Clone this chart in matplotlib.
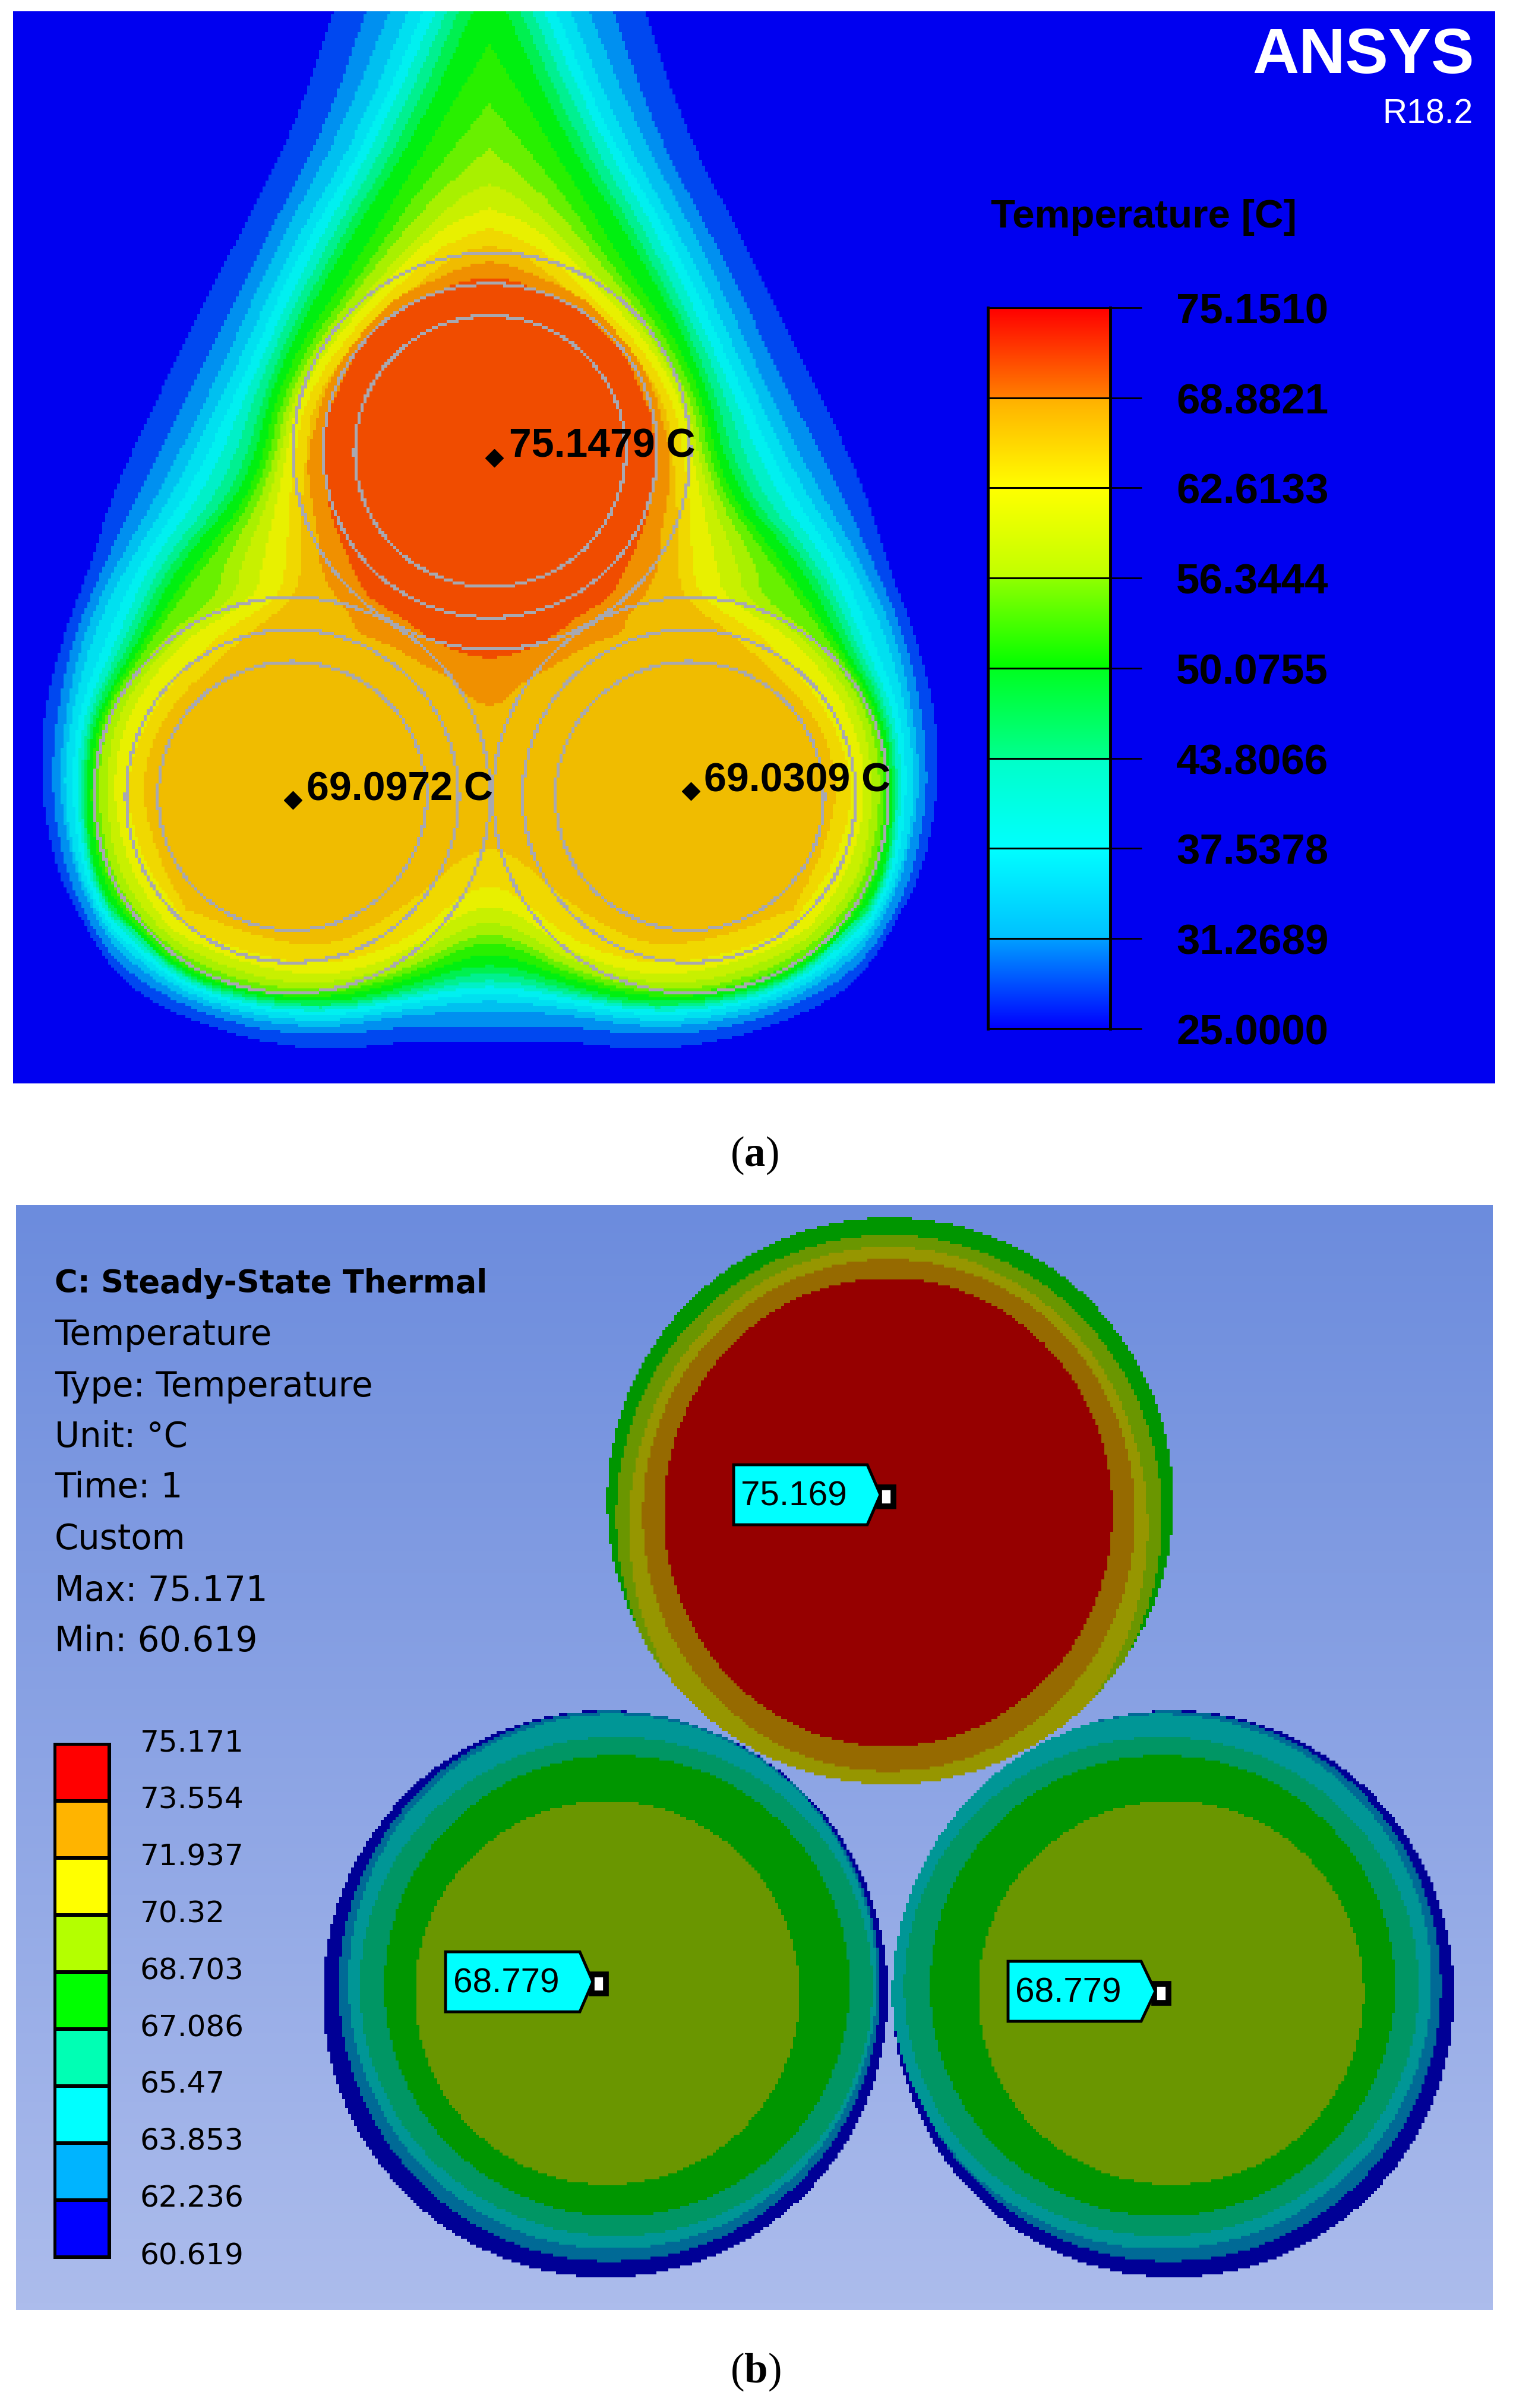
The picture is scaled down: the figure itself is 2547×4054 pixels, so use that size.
import numpy as np
import matplotlib
matplotlib.use('Agg')
import matplotlib.pyplot as plt
from matplotlib.colors import ListedColormap, LinearSegmentedColormap
from matplotlib.path import Path
from matplotlib.patches import Polygon, Rectangle
from matplotlib.transforms import ScaledTranslation

W, H = 2547, 4055
nan = np.nan

# ---- panel a: temperature bands (outermost first)
band_colors = ['#0000F0', '#0048F0', '#0090F0', '#00C0F0', '#00E0F0', '#00F0F0', '#00F0C8',
               '#00F090', '#00F050', '#00F010', '#28F000', '#68F000', '#A8F000', '#C8F000',
               '#E8F000', '#F0D800', '#F0BC00', '#F09000', '#F04C00', '#A8A8B0']
axis_x = 824
apex_y = [nan] * 9 + [74, 176, 250, 311, 352, 385, 415]

# band edge x along rows of the left flank, one column for each of 16 bands
row_y = [20, 224, 326, 377, 400, 428, 632, 820, 948, 1010, 1075, 1203, 1330, 1458, 1540]
edge_x = [
    [562, 616, 656, 687, 712, 733, 752, 772, 796, nan, nan, nan, nan, nan, nan, nan],
    [493, 544, 572, 603, 625, 641, 661, 682, 702, 733, 784, nan, nan, nan, nan, nan],
    [nan, nan, nan, nan, nan, nan, nan, nan, nan, 671, 702, 738, 784, nan, nan, nan],
    [nan, nan, nan, nan, nan, nan, nan, nan, nan, nan, 667, 693, 727, 758, nan, nan],
    [nan, nan, nan, nan, nan, nan, nan, nan, nan, nan, nan, nan, nan, nan, 780, nan],
    [386, 434, 460, 485, 503, 523, 541, 557, 572, 608, 631, 648, 674, 694, 722, 758],
    [284, 335, 368, 391, 411, 427, 439, 452, 462, 472, 483, 493, 500, 508, 521, 534],
    [194, 238, 273, 299, 324, 350, 378, 401, 416, 432, 442, 452, 462, 472, 488, 508],
    [154, 177, 197, 215, 235, 253, 271, 286, 302, 330, 350, 376, 406, 442, 483, 508],
    [nan, nan, nan, nan, nan, nan, nan, nan, nan, nan, nan, 365, 395, 430, 470, 498],
    [105, 123, 138, 154, 179, 197, 210, 222, 235, 245, 256, 271, 289, 309, 355, 406],
    [72, 95, 110, 120, 130, 140, 148, 154, 160, 166, 172, 182, 194, 212, 248, 271],
    [68, 85, 98, 105, 120, 128, 134, 138, 143, 151, 157, 163, 177, 187, 207, 233],
    [92, 108, 123, 128, 136, 143, 148, 151, 154, 164, 171, 182, 194, 215, 243, 271],
    [131, 141, 156, 164, 171, 179, 184, 189, 194, 205, 215, 228, 245, 266, 304, 319],
]
# band edge y along columns of the bottom part
col_x = [202, 304, 432, 559, 687, 779, 824]
edge_y = [
    [1655, 1630, 1608, 1592, 1579, 1566, 1553, 1544, nan, nan, nan, nan, nan, nan, nan, nan],
    [1713, 1694, 1681, 1671, 1662, 1655, 1650, 1646, 1641, 1633, 1624, 1611, 1595, 1579, 1560, 1528],
    [1754, 1735, 1722, 1713, 1703, 1697, 1691, 1686, 1681, 1675, 1669, 1662, 1649, 1630, 1611, 1579],
    [1770, 1745, 1732, 1722, 1713, 1706, 1701, 1697, 1691, 1682, 1675, 1668, 1659, 1646, 1627, 1598],
    [1754, 1729, 1710, 1700, 1691, 1682, 1676, 1670, 1662, 1652, 1643, 1633, 1620, 1604, 1585, 1526],
    [1754, 1729, 1705, 1689, 1676, 1665, 1655, 1643, 1630, 1614, 1595, 1582, 1563, 1537, 1506, 1442],
    [1754, 1729, 1703, 1687, 1675, 1662, 1652, 1639, 1627, 1608, 1588, 1573, 1553, 1528, 1493, 1429],
]
# the two hottest bands close on their own around the top cable
hot1_x = [824, 784, 738, 702, 666, 641, 610, 585, 559, 544, 534, 523, 518, 521, 526, 536, 539, 559, 592, 597, 661, 712, 763, 799, 824]
hot1_y = [441, 449, 469, 484, 505, 525, 561, 591, 632, 668, 709, 744, 785, 820, 852, 903, 957, 999, 1037, 1066, 1088, 1120, 1145, 1184, 1189]
hot2_x = [824, 791, 758, 702, 661, 636, 610, 590, 574, 559, 549, 546, 549, 554, 572, 592, 615, 631, 677, 712, 753, 796, 824]
hot2_y = [471, 471, 482, 510, 530, 556, 581, 612, 648, 683, 709, 785, 820, 858, 909, 954, 999, 1015, 1040, 1069, 1091, 1107, 1108]

# grey cable outlines: three circles for each cable
ring_cx = [828, 825, 825, 492, 492, 492, 1163, 1160, 1161]
ring_cy = [760, 760, 761, 1340, 1341, 1341, 1340, 1341, 1341]
ring_r = [334, 281, 228, 333, 280, 226, 333, 280, 226]

probe_x = [832, 493, 1163]
probe_y = [772, 1348, 1333]
probe_labels = ['75.1479 C', '69.0972 C', '69.0309 C']
probe_label_x = [857, 516, 1185]
probe_label_y = [752, 1330, 1315]

cb_values = [25.0, 31.2689, 37.5378, 43.8066, 50.0755, 56.3444, 62.6133, 68.8821, 75.151]
cb_labels = ['25.0000', '31.2689', '37.5378', '43.8066', '50.0755', '56.3444', '62.6133', '68.8821', '75.1510']
cb_colors = [('#0000FF', '#00A0FF'), ('#00C0FF', '#00FFFF'), ('#00FFFF', '#00FFC8'), ('#00FF90', '#00FF20'),
             ('#00FF00', '#90FF00'), ('#C0FF00', '#FFFF00'), ('#FFFF00', '#FFB000'), ('#FF8000', '#FF0000')]

# ---- panel b
info_lines = ['Temperature', 'Type: Temperature', 'Unit: °C', 'Time: 1', 'Custom', 'Max: 75.171', 'Min: 60.619']
info_y = [2248, 2335, 2420, 2505, 2592, 2679, 2764]
leg_values = [60.619, 62.236, 63.853, 65.47, 67.086, 68.703, 70.32, 71.937, 73.554, 75.171]
leg_labels = ['60.619', '62.236', '63.853', '65.47', '67.086', '68.703', '70.32', '71.937', '73.554', '75.171']
leg_colors = ['#0000FF', '#00B4FF', '#00FFFF', '#00FFB4', '#00FF00', '#B4FF00', '#FFFF00', '#FFB400', '#FF0000']

# cable layers from the outside in: centre and half axes of each
top_colors = ['#009600', '#6A9600', '#969600', '#966A00', '#960000']
top_cx = [1501, 1499, 1498, 1499, 1498]
top_cy = [2528, 2555, 2572, 2552, 2547]
top_rx = [477, 460, 437, 415, 378]
top_ry = [477, 475, 472, 431, 394]

low_colors = ['#000096', '#006A96', '#009696', '#009664', '#009600', '#6A9600']
left_cx = [1021, 1028, 1033, 1039, 1040, 1024]
right_cx = [1978, 1970, 1958, 1958, 1960, 1975]
low_cy = [3358, 3345, 3337, 3345, 3344, 3356]
left_rx = [476, 456, 445, 432, 392, 324]
right_rx = [474, 460, 456, 434, 392, 325]
low_ry = [477, 463, 450, 420, 388, 323]

# tag box left, right, tip, top, bottom, text
tag_left = [1235, 750, 1697]
tag_right = [1460, 976, 1921]
tag_tip = [1482, 998, 1945]
tag_top = [2467, 3287, 3303]
tag_bottom = [2568, 3388, 3404]
tag_text = ['75.169', '68.779', '68.779']


def smooth(pts, n=2):
    # corner cutting, the ends stay where they are
    pts = np.asarray(pts, float)
    for _ in range(n):
        q = .75 * pts[:-1] + .25 * pts[1:]
        r = .25 * pts[:-1] + .75 * pts[1:]
        mid = np.empty((2 * len(q), 2))
        mid[0::2] = q
        mid[1::2] = r
        pts = np.vstack([pts[0], mid, pts[-1]])
    return pts


def outline(half):
    half = smooth(half)
    other = half[::-1].copy()
    other[:, 0] = 2 * axis_x - other[:, 0]
    return Path(np.vstack([half, other]))


def px_axes(x0, y0, x1, y1):
    return fig.add_axes([x0 / W, 1 - y1 / H, (x1 - x0) / W, (y1 - y0) / H])


fig = plt.figure(figsize=(W / 100, H / 100), dpi=100)
ax = fig.add_axes([0, 0, 1, 1])
ax.set_axis_off()

# panel a raster, the source screenshot has blocks of about 5 px
xs = np.arange(22, 2517, 5.0)
ys = np.arange(20, 1825, 5.0)
xx, yy = np.meshgrid(xs + 2.5, ys + 2.5)
cells = np.column_stack([xx.ravel(), yy.ravel()])
band = np.zeros(len(cells), int)
edge_x = np.array(edge_x, float)
edge_y = np.array(edge_y, float)
for k in range(16):
    half = []
    if not np.isnan(apex_y[k]):
        half.append((axis_x, apex_y[k]))
    half += [(edge_x[i, k], row_y[i]) for i in range(len(row_y)) if not np.isnan(edge_x[i, k])]
    half += [(col_x[i], edge_y[i, k]) for i in range(len(col_x)) if not np.isnan(edge_y[i, k])]
    band[outline(half).contains_points(cells)] = k + 1
band[outline(list(zip(hot1_x, hot1_y))).contains_points(cells)] = 17
band[outline(list(zip(hot2_x, hot2_y))).contains_points(cells)] = 18
band = band.reshape(xx.shape)
for cx, cy, r in zip(ring_cx, ring_cy, ring_r):
    d = np.hypot(xx - cx, yy - cy)
    band[np.abs(d - r) < 2.6] = 19
ax.imshow(band, cmap=ListedColormap(band_colors), vmin=0, vmax=19, interpolation='nearest',
          extent=(22, 2517, 1825, 20), aspect='auto')

ax.plot(probe_x, probe_y, ls='none', marker='D', ms=15, color='black')
for s, x, y in zip(probe_labels, probe_label_x, probe_label_y):
    ax.text(x, y, s, fontsize=49, family='Liberation Sans', weight='bold', va='center', ha='left')

ax.text(2482, 95, 'ANSYS', color='white', fontsize=78, family='Liberation Sans', weight='bold', va='center', ha='right')
ax.text(2480, 193, 'R18.2', color='white', fontsize=41, family='Liberation Sans', va='center', ha='right')
ax.text(1668, 366, 'Temperature [C]', fontsize=48.5, family='Liberation Sans', weight='bold', va='center', ha='left')

# panel a colour bar
stops = []
for i, pair in enumerate(cb_colors):
    stops += [(i / 8, pair[0]), ((i + 1) / 8, pair[1])]
cb_cmap = LinearSegmentedColormap.from_list('cb', stops, N=800)
ax_cb = px_axes(1663, 519, 1869, 1733)
ax_cb.imshow(np.linspace(25, 75.151, 800)[:, None], origin='lower', cmap=cb_cmap, aspect='auto',
             extent=(0, 1, 25, 75.151), vmin=25, vmax=75.151)
ax_cb.hlines(cb_values, 0, 1, color='black', lw=2.2)
ax_cb.set_xticks([])
ax_cb.yaxis.tick_right()
ax_cb.set_yticks(cb_values, cb_labels, fontsize=51, family='Liberation Sans', weight='bold')
ax_cb.tick_params(axis='y', length=38, width=2, pad=42)
for s in ['left', 'right']:
    ax_cb.spines[s].set_linewidth(3.5)
for s in ['top', 'bottom']:
    ax_cb.spines[s].set_linewidth(2)

# panel b background
bg = LinearSegmentedColormap.from_list('bg', ['#6C8CDD', '#ACBCEC'])
ax.imshow(np.linspace(0, 1, 256)[:, None], cmap=bg, extent=(27, 2513, 3890, 2030), aspect='auto', interpolation='bilinear')

xs2 = np.arange(27, 2513, 5.0)
ys2 = np.arange(2030, 3890, 5.0)
xx2, yy2 = np.meshgrid(xs2 + 2.5, ys2 + 2.5)
all_colors = low_colors + top_colors
b_band = np.full(xx2.shape, -1)


def paint(cxs, cys, rxs, rys, first):
    outer = ((xx2 - cxs[0]) / rxs[0]) ** 2 + ((yy2 - cys[0]) / rys[0]) ** 2 < 1
    for i in range(len(cxs)):
        inside = ((xx2 - cxs[i]) / rxs[i]) ** 2 + ((yy2 - cys[i]) / rys[i]) ** 2 < 1
        b_band[inside & outer] = first + i


paint(right_cx, low_cy, right_rx, low_ry, 0)
paint(left_cx, low_cy, left_rx, low_ry, 0)
paint(top_cx, top_cy, top_rx, top_ry, len(low_colors))
b_cmap = ListedColormap(all_colors)
b_cmap.set_bad(alpha=0)
ax.imshow(np.ma.masked_less(b_band, 0), cmap=b_cmap, vmin=0, vmax=len(all_colors) - 1,
          interpolation='nearest', extent=(27, 2513, 3890, 2030), aspect='auto')

# probe tags
for i in range(3):
    l, r, t, top, bot = tag_left[i], tag_right[i], tag_tip[i], tag_top[i], tag_bottom[i]
    mid = (top + bot) / 2
    ax.add_patch(Polygon([(l, top), (r, top), (t, mid), (r, bot), (l, bot)], fc='#00FFFF', ec='black', lw=3.5, zorder=5))
    ax.add_patch(Rectangle((t - 2, mid - 13), 24, 32, fc='white', ec='black', lw=7, zorder=4))
    ax.text((l + r) / 2 - 11, mid + 2, tag_text[i], fontsize=42, family='Liberation Sans', va='center', ha='center', zorder=6)

ax.text(92, 2161, 'C: Steady-State Thermal', fontsize=38, family='DejaVu Sans', weight='bold', va='center', ha='left')
for s, y in zip(info_lines, info_y):
    ax.text(92, y, s, fontsize=41.5, family='DejaVu Sans', va='center', ha='left')

# panel b legend
ax_leg = px_axes(92, 2937, 184, 3801)
ax_leg.pcolormesh([0, 1], leg_values, np.arange(9)[:, None], cmap=ListedColormap(leg_colors), edgecolors='black', linewidth=3)
ax_leg.set_xticks([])
ax_leg.yaxis.tick_right()
ax_leg.set_yticks(leg_values, leg_labels, fontsize=36, family='DejaVu Sans')
ax_leg.tick_params(axis='y', length=0, pad=37)
up = ScaledTranslation(0, 8 / 100, fig.dpi_scale_trans)
for t in ax_leg.yaxis.get_major_ticks():
    t.label2.set_transform(t.label2.get_transform() + up)
for s in ax_leg.spines.values():
    s.set_linewidth(3.6)

# captions
plt.rcParams['mathtext.fontset'] = 'custom'
plt.rcParams['mathtext.bf'] = 'Liberation Serif:bold'
plt.rcParams['mathtext.rm'] = 'Liberation Serif'
ax.text(1270, 1945, r'($\mathbf{a}$)', fontsize=51, family='Liberation Serif', ha='center', va='center')
ax.text(1272, 3993, r'($\mathbf{b}$)', fontsize=51, family='Liberation Serif', ha='center', va='center')

ax.set_xlim(0, W)
ax.set_ylim(H, 0)
fig.savefig('out.png', dpi=100, facecolor='white')
